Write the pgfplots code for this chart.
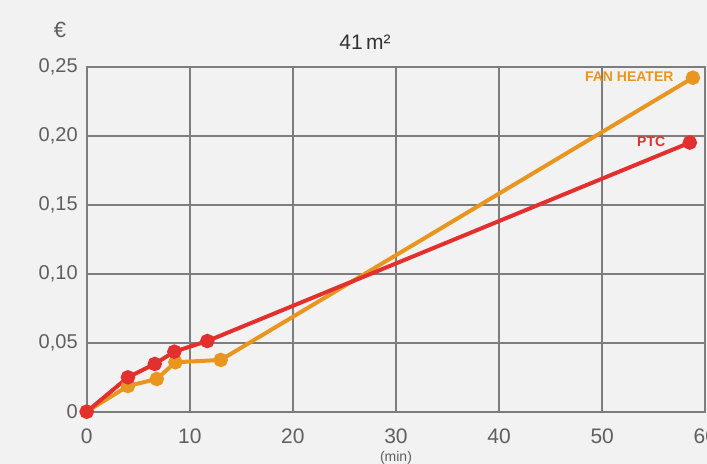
\documentclass[border=0pt]{standalone}
\usepackage{fontspec}
\setmainfont{Liberation Sans}
\usepackage{pgfplots}
\pgfplotsset{compat=1.18}

\definecolor{bgcol}{RGB}{242,242,242}
\definecolor{gridcol}{RGB}{125,125,125}
\definecolor{txtcol}{RGB}{95,95,95}
\definecolor{fanorange}{RGB}{233,150,32}
\definecolor{ptcred}{RGB}{225,48,46}

\begin{document}
\begin{tikzpicture}
% background, 1px = 0.5pt; axis box south west at (0,0)
\fill[bgcol] (-43.35pt,-26.15pt) rectangle (310.15pt,205.85pt);
\useasboundingbox (-43.35pt,-26.15pt) rectangle (310.15pt,205.85pt);
\begin{axis}[
    scale only axis,
    width=309.3pt, height=172.5pt,
    xmin=0, xmax=60, ymin=0, ymax=0.25,
    xtick={0,10,...,60},
    ytick={0,0.05,0.10,0.15,0.20,0.25},
    yticklabels={0,{0,05},{0,10},{0,15},{0,20},{0,25}},
    grid=major,
    major grid style={gridcol, line width=1pt},
    axis line style={gridcol, line width=1pt},
    tick style={draw=none},
    ticklabel style={font=\fontsize{10}{12}\selectfont, text=txtcol},
    xticklabel style={yshift=-5pt, font=\fontsize{10.5}{12}\selectfont},
    yticklabel style={xshift=-1pt},
    xlabel={(min)},
    xlabel style={font=\fontsize{7}{8}\selectfont, text=txtcol, yshift=3pt},
    clip=false,
    /pgf/number format/assume math mode=true,
]
\addplot[fanorange, line width=2pt, mark=*, mark size=2.6pt, mark options={fill=fanorange, draw=fanorange}]
  coordinates {(0,0) (4.0,0.0186) (6.8,0.0237) (8.6,0.0358) (13.0,0.0375) (58.8,0.242)};
\addplot[ptcred, line width=2pt, mark=*, mark size=2.6pt, mark options={fill=ptcred, draw=ptcred}]
  coordinates {(0,0) (4.0,0.0249) (6.6,0.0346) (8.5,0.0435) (11.7,0.0512) (58.5,0.195)};
\node[anchor=east, text=fanorange, font=\bfseries\fontsize{7}{8}\selectfont] at (axis cs:57.6,0.2428) {FAN HEATER};
\node[anchor=east, text=ptcred, font=\bfseries\fontsize{7}{8}\selectfont] at (axis cs:56.8,0.1957) {PTC};
\node[text=black!80, font=\fontsize{10.5}{12}\selectfont] at (axis cs:27,0.268) {41\,m²};
\node[text=txtcol, font=\fontsize{11}{12}\selectfont] at (axis cs:-2.6,0.2766) {€};
\end{axis}
\end{tikzpicture}
\end{document}
